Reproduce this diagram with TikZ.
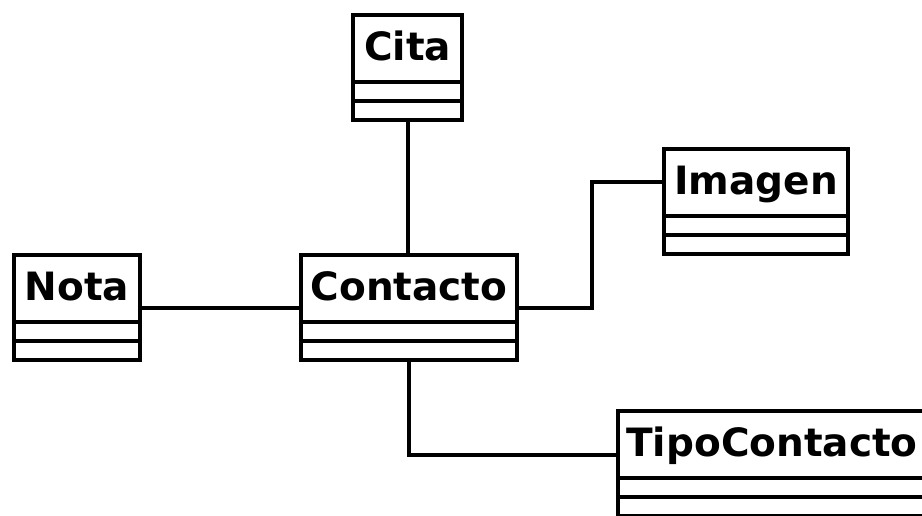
\documentclass[tikz,border=0pt]{standalone}
\usepackage{fontspec}
\setmainfont{DejaVu Sans}
\usetikzlibrary{calc}

\tikzset{
  classbox/.style={draw, line width=4pt, inner sep=0pt, outer sep=0pt, minimum height=105pt, fill=white},
  classtitle/.style={inner sep=0pt, anchor=base, font=\fontsize{39}{41}\selectfont\bfseries},
  classline/.style={line width=4pt},
  assoc/.style={line width=4pt},
}

% UML class: name, left x, top y, width, title
\newcommand{\umlclass}[5]{%
  \node[classbox, minimum width=#4pt, anchor=north west] (#1) at (#2,#3) {};
  \node[classtitle] (#1-title) at ($(#1.north)+(0,-45.5pt)$) {#5};
  \draw[classline] ($(#1.north west)+(0,-67pt)$) -- ($(#1.north east)+(0,-67pt)$);
  \draw[classline] ($(#1.north west)+(0,-86pt)$) -- ($(#1.north east)+(0,-86pt)$);
}

\begin{document}
\begin{tikzpicture}[x=1pt, y=-1pt]
  \useasboundingbox (0,0) rectangle (922,516);
  \clip (0,0) rectangle (922,516);

  \umlclass{cita}{353}{15}{109}{Cita}
  \umlclass{nota}{14}{255}{126}{Nota}
  \umlclass{contacto}{301}{255}{216}{Contacto}
  \umlclass{imagen}{664}{149}{184}{Imagen}
  \umlclass{tipo}{618}{411}{308}{TipoContacto}

  \coordinate (elbowA) at (592,182.5);
  \coordinate (elbowB) at ($(contacto.south)+(0,-95pt)$);

  \draw[assoc] (cita.south) -- (cita.south |- contacto.north);
  \draw[assoc] (nota.east) -- (contacto.west);
  \draw[assoc] (contacto.east) -| (elbowA) -- (imagen.west |- elbowA);
  \draw[assoc] (contacto.south) -- (elbowB) -- (tipo.west |- elbowB);
\end{tikzpicture}
\end{document}
